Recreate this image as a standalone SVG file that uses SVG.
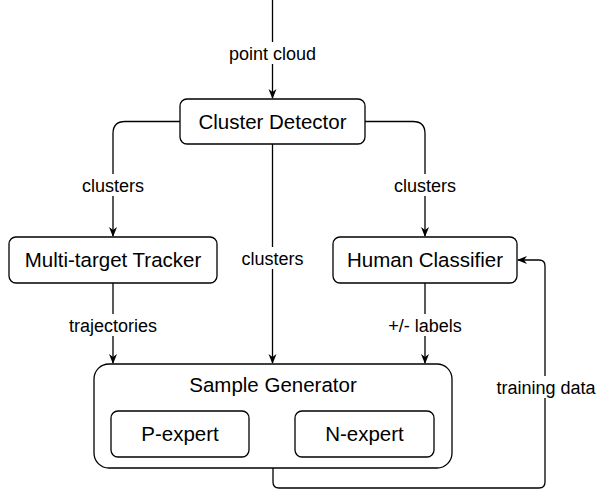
<svg xmlns="http://www.w3.org/2000/svg" width="600" height="491" viewBox="0 0 600 491">
<defs>
<marker id="arr" viewBox="0 0 10 10" refX="9" refY="5" markerWidth="10" markerHeight="10" markerUnits="userSpaceOnUse" orient="auto">
<path d="M0,1 L10,5 L0,9 L3,5 Z" fill="#000"/>
</marker>
<style>
.box{fill:#fff;stroke:#000;stroke-width:1.3}
.edge{fill:none;stroke:#000;stroke-width:1.3}
.nt{font-family:"Liberation Sans",Arial,sans-serif;font-size:20.5px;fill:#000;text-anchor:middle}
.lt{font-family:"Liberation Sans",Arial,sans-serif;font-size:18px;fill:#000;text-anchor:middle}
.lbg{fill:#fff}
</style>
</defs>
<rect width="600" height="491" fill="#fff"/>
<g id="connectors">
<path class="edge" d="M272.5,0 L272.5,98" marker-end="url(#arr)"/>
<path class="edge" d="M180,121.5 L125,121.5 Q113,121.5 113,133.5 L113,236" marker-end="url(#arr)"/>
<path class="edge" d="M365,121.5 L413,121.5 Q425,121.5 425,133.5 L425,236" marker-end="url(#arr)"/>
<path class="edge" d="M272.5,144 L272.5,363" marker-end="url(#arr)"/>
<path class="edge" d="M113,283 L113,363" marker-end="url(#arr)"/>
<path class="edge" d="M425,283 L425,363" marker-end="url(#arr)"/>
<path class="edge" d="M273,468 L273,482 Q273,488 279,488 L539,488 Q545,488 545,482 L545,266 Q545,260 539,260 L518,260" marker-end="url(#arr)"/>
<rect class="lbg" x="226" y="42" width="94" height="22"/>
<text class="lt" x="272.5" y="59.5">point cloud</text>
<rect class="lbg" x="79" y="174" width="68" height="22"/>
<text class="lt" x="113" y="191.5">clusters</text>
<rect class="lbg" x="391" y="174" width="68" height="22"/>
<text class="lt" x="425" y="191.5">clusters</text>
<rect class="lbg" x="238" y="247" width="69" height="22"/>
<text class="lt" x="272.5" y="264.5">clusters</text>
<rect class="lbg" x="66" y="314" width="94" height="22"/>
<text class="lt" x="113" y="331.5">trajectories</text>
<rect class="lbg" x="386" y="314" width="78" height="22"/>
<text class="lt" x="425" y="331.5">+/- labels</text>
<rect class="lbg" x="494" y="376" width="104" height="22"/>
<text class="lt" x="546" y="393.5">training data</text>
</g>
<g id="cluster-detector">
<rect class="box" x="180" y="99" width="185" height="45" rx="7"/>
<text class="nt" x="272.5" y="128.5">Cluster Detector</text>
</g>
<g id="multi-target-tracker">
<rect class="box" x="9" y="237" width="208" height="46" rx="7"/>
<text class="nt" x="113" y="267">Multi-target Tracker</text>
</g>
<g id="human-classifier">
<rect class="box" x="333" y="237" width="184" height="46" rx="7"/>
<text class="nt" x="425" y="267">Human Classifier</text>
</g>
<g id="sample-generator">
<rect class="box" x="94" y="364" width="358" height="104" rx="15"/>
<text class="nt" x="273" y="392">Sample Generator</text>
</g>
<g id="p-expert">
<rect class="box" x="111" y="411" width="138" height="46" rx="7"/>
<text class="nt" x="180" y="441">P-expert</text>
</g>
<g id="n-expert">
<rect class="box" x="295" y="411" width="139" height="46" rx="7"/>
<text class="nt" x="364.5" y="441">N-expert</text>
</g>
</svg>
